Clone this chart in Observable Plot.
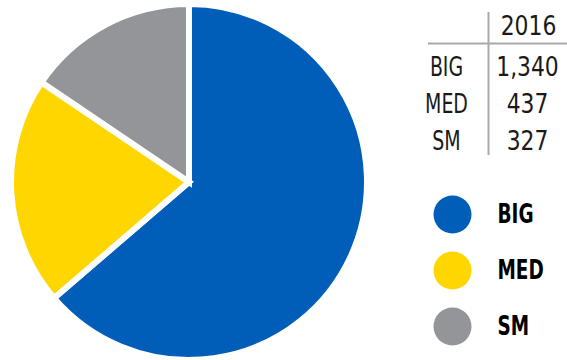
<!DOCTYPE html>
<html><head><meta charset="utf-8">
<script src="https://cdn.jsdelivr.net/npm/d3@7"></script>
<script src="https://cdn.jsdelivr.net/npm/@observablehq/plot@0.6"></script>
<style>body{margin:0;background:#fff}</style>
</head><body><div id="chart"></div>
<script>
const categories = ["BIG", "MED", "SM"];
const values = [1340, 437, 327];
const valueLabels = ["1,340", "437", "327"];
const yearLabel = "2016";
const colors = ["#005EB8", "#FFD600", "#939598"];

const data = categories.map((c, i) => ({category: c, value: values[i], label: valueLabels[i], i}));
const arcs = d3.pie().sort(null).value(d => d.value)(data);

const W = 567, H = 360;
const pieCenter = [189, 182], pieRadius = 178;
const font = "'Liberation Sans Narrow', 'DejaVu Sans Condensed', sans-serif";

function pieMark(index, scales) {
  const {x, y, color} = scales;
  const g = d3.create("svg:g")
    .attr("transform", `translate(${x(pieCenter[0])},${y(pieCenter[1])})`);
  const arc = d3.arc().innerRadius(0).outerRadius(x(pieRadius) - x(0));
  g.selectAll("path").data(arcs).join("path")
    .attr("d", arc)
    .attr("fill", d => color(d.data.category))
    .attr("stroke", "white")
    .attr("stroke-width", 6)
    .attr("stroke-linejoin", "miter");
  return g.node();
}

const rowY = i => 67 + i * 37;
const legY = i => 214 + i * 56;
const fs = 27;

const chart = Plot.plot({
  width: W, height: H,
  margin: 0,
  x: {domain: [0, W], range: [0, W], axis: null},
  y: {domain: [0, H], range: [0, H], axis: null},
  color: {domain: categories, range: colors},
  style: {fontFamily: font, background: "white"},
  marks: [
    Plot.dot(data, {x: 452, y: d => legY(d.i), r: 19, fill: "category"}),
    pieMark,
    Plot.ruleX([488], {y1: 12, y2: 155, stroke: "#A7A9AC", strokeWidth: 2}),
    Plot.ruleY([43], {x1: 428, x2: W, stroke: "#A7A9AC", strokeWidth: 2}),
    Plot.text([yearLabel], {x: 528, y: 26, text: d => d, fontSize: fs, fill: "#1a1a1a"}),
    Plot.text(data, {x: 446, y: d => rowY(d.i), text: "category", fontSize: fs, fill: "#1a1a1a"}),
    Plot.text(data, {x: 527, y: d => rowY(d.i), text: "label", fontSize: fs, fill: "#1a1a1a"}),
    Plot.text(data, {x: 497, y: d => legY(d.i), text: "category", textAnchor: "start", fontSize: fs, fontWeight: "bold", fill: "#000"})
  ]
});

// narrow the glyphs to mimic a condensed typeface
d3.select(chart).selectAll("text").each(function() {
  const el = d3.select(this);
  const txt = el.text();
  const bold = this.closest("[font-weight]") && this.closest("[font-weight]").getAttribute("font-weight") === "bold";
  const k = /^[\d,]+$/.test(txt) ? 0.9 : bold ? 0.76 : 0.78;
  const x = +el.attr("x") || 0, y = +el.attr("y") || 0;
  const t = el.attr("transform") || "";
  el.attr("transform", `${t} translate(${x},${y}) scale(${k},1) translate(${-x},${-y})`);
});

document.getElementById("chart").append(chart);
</script>
</body></html>
